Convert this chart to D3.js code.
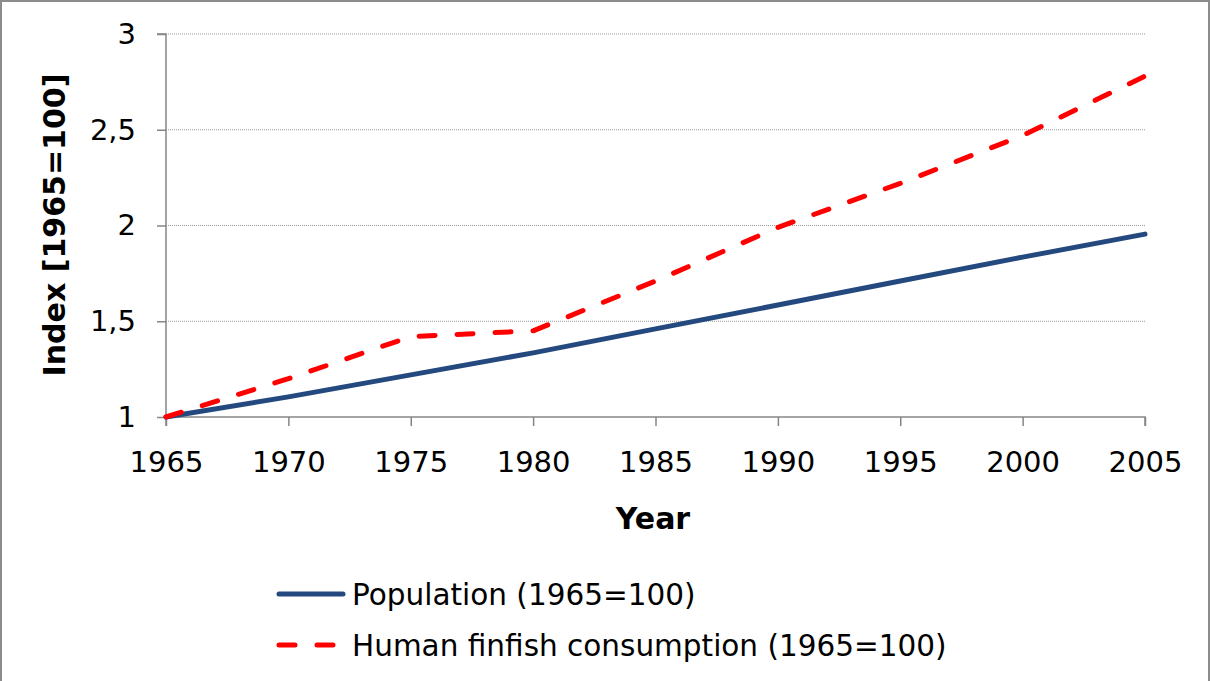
<!DOCTYPE html>
<html><head><meta charset="utf-8">
<script src="https://cdn.jsdelivr.net/npm/d3@7"></script>
<style>
html,body{margin:0;padding:0;background:#fff;}
svg{display:block;font-family:"DejaVu Sans",Verdana,sans-serif;}
</style></head>
<body><svg id="chart" width="1210" height="681"></svg>
<script>
const years = [1965,1970,1975,1980,1985,1990,1995,2000,2005];
const population = [1.0,1.105,1.22,1.335,1.46,1.585,1.71,1.835,1.955];
const finfishYears = [1965,1970,1975,1980,1985,1990,1995,2000,2005];
const finfish = [1.0,1.2,1.42,1.45,1.71,1.99,2.22,2.47,2.78];
const yTicks = [1,1.5,2,2.5,3];
const xTicks = [1965,1970,1975,1980,1985,1990,1995,2000,2005];
const seriesNames = ["Population (1965=100)","Human finfish consumption (1965=100)"];

const svg = d3.select("#chart");
const W=1210,H=681;
svg.append("path").attr("d",`M1,${H}V1H${W-1}V${H}`).attr("fill","none")
  .attr("stroke","#8c8c8c").attr("stroke-width",2);

const m={left:166,right:1145,top:34,bottom:417};
const x=d3.scaleLinear().domain([1965,2005]).range([m.left,m.right]);
const y=d3.scaleLinear().domain([1,3]).range([m.bottom,m.top]);
const fmt=d=>String(d).replace(".",",");

// gridlines
svg.append("g").selectAll("line").data(yTicks.filter(d=>d>1)).join("line")
  .attr("x1",m.left).attr("x2",m.right).attr("y1",d=>y(d)).attr("y2",d=>y(d))
  .attr("stroke","#9a9a9a").attr("stroke-width",1).attr("stroke-dasharray","1,1");

// y axis
const ya=svg.append("g").attr("transform",`translate(${m.left},0)`)
  .call(d3.axisLeft(y).tickValues(yTicks).tickFormat(fmt).tickSize(9).tickPadding(21));
// x axis
const xa=svg.append("g").attr("transform",`translate(0,${m.bottom})`)
  .call(d3.axisBottom(x).tickValues(xTicks).tickFormat(d3.format("d")).tickSize(9).tickPadding(25));
[ya,xa].forEach(a=>{
  a.select(".domain").attr("stroke","#868686").attr("stroke-width",1.5);
  a.selectAll(".tick line").attr("stroke","#868686").attr("stroke-width",1.5);
  a.selectAll("text").attr("font-size",29).attr("fill","#000").attr("font-family","DejaVu Sans, Verdana, sans-serif");
});
ya.select(".domain").attr("d",`M-9,${m.top}H0V${m.bottom}`);
xa.select(".domain").attr("d",`M${m.left},9V0H${m.right}V9`);

// lines
const line=d3.line().x(d=>x(d[0])).y(d=>y(d[1]));
svg.append("path").datum(years.map((yr,i)=>[yr,population[i]]))
  .attr("d",line).attr("fill","none").attr("stroke","#24497E").attr("stroke-width",5)
  .attr("stroke-linecap","round").attr("stroke-linejoin","round");
svg.append("path").datum(finfishYears.map((yr,i)=>[yr,finfish[i]]))
  .attr("d",line).attr("fill","none").attr("stroke","#FF0000").attr("stroke-width",5)
  .attr("stroke-linecap","round").attr("stroke-linejoin","round").attr("stroke-dasharray","16,22");

// axis titles
svg.append("text").attr("x",653).attr("y",529).attr("text-anchor","middle")
  .attr("font-size",30).attr("font-weight","bold").text("Year");
svg.append("text").attr("transform","translate(65,225) rotate(-90)").attr("text-anchor","middle")
  .attr("font-size",30).attr("font-weight","bold").text("Index [1965=100]");

// legend
const leg=[{y:594,color:"#24497E",dash:null},{y:645,color:"#FF0000",dash:"16,22"}];
leg.forEach((l,i)=>{
  svg.append("line").attr("x1",279).attr("x2",343).attr("y1",l.y).attr("y2",l.y)
    .attr("stroke",l.color).attr("stroke-width",5).attr("stroke-linecap","round")
    .attr("stroke-dasharray",l.dash);
  svg.append("text").attr("x",352).attr("y",l.y+11).attr("font-size",29.5).text(seriesNames[i]);
});
</script></body></html>
